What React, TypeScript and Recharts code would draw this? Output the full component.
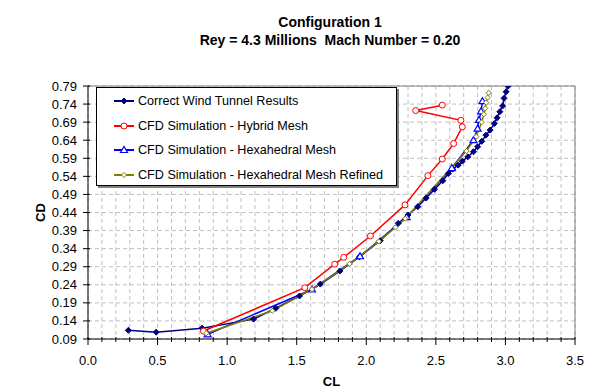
import { LineChart, Line, XAxis, YAxis, CartesianGrid, Legend, ReferenceLine } from 'recharts'

// Correct wind tunnel results
const windCL = [0.29, 0.49, 0.82, 1.19, 1.35, 1.52, 1.67, 1.81, 1.95, 2.1, 2.23, 2.3, 2.37, 2.43, 2.49, 2.55, 2.59, 2.62, 2.66, 2.69, 2.73, 2.77, 2.8, 2.83, 2.86, 2.89, 2.92, 2.94, 2.96, 2.98, 2.99, 3.005, 3.02]
const windCD = [0.114, 0.109, 0.12, 0.145, 0.175, 0.209, 0.242, 0.278, 0.317, 0.362, 0.41, 0.433, 0.456, 0.48, 0.504, 0.528, 0.548, 0.56, 0.571, 0.582, 0.594, 0.608, 0.622, 0.637, 0.654, 0.668, 0.686, 0.702, 0.719, 0.735, 0.756, 0.774, 0.79]

// CFD hybrid mesh
const hybridCL = [0.83, 1.558, 1.773, 1.838, 2.03, 2.278, 2.443, 2.546, 2.628, 2.69, 2.68, 2.355, 2.546]
const hybridCD = [0.112, 0.232, 0.297, 0.316, 0.375, 0.461, 0.542, 0.588, 0.631, 0.677, 0.695, 0.722, 0.737]

// CFD hexahedral mesh
const hexaCL = [0.86, 1.61, 1.955, 2.29, 2.615, 2.77, 2.8, 2.81, 2.825, 2.835]
const hexaCD = [0.103, 0.227, 0.319, 0.427, 0.563, 0.64, 0.672, 0.696, 0.72, 0.748]

// CFD hexahedral mesh refined
const refinedCL = [0.85, 1.325, 1.61, 1.88, 2.09, 2.21, 2.28, 2.72, 2.79, 2.83, 2.845, 2.855, 2.862, 2.872, 2.88]
const refinedCD = [0.106, 0.168, 0.228, 0.298, 0.36, 0.399, 0.423, 0.61, 0.65, 0.69, 0.712, 0.728, 0.744, 0.758, 0.771]

const xTicks = [0, 0.1, 0.2, 0.3, 0.4, 0.5, 0.6, 0.7, 0.8, 0.9, 1.0, 1.1, 1.2, 1.3, 1.4, 1.5, 1.6, 1.7, 1.8, 1.9, 2.0, 2.1, 2.2, 2.3, 2.4, 2.5, 2.6, 2.7, 2.8, 2.9, 3.0, 3.1, 3.2, 3.3, 3.4, 3.5]
const yTicks = [0.09, 0.14, 0.19, 0.24, 0.29, 0.34, 0.39, 0.44, 0.49, 0.54, 0.59, 0.64, 0.69, 0.74, 0.79]

const zip = (xs: number[], ys: number[]) => xs.map((x, i) => ({ x, y: ys[i] }))

const FONT = '"Liberation Sans", Arial, sans-serif'

type Shape = 'diamondFilled' | 'circle' | 'triangle' | 'diamond'

const series: { name: string; color: string; shape: Shape; data: { x: number; y: number }[] }[] = [
  { name: 'Correct Wind Tunnel Results', color: '#000080', shape: 'diamondFilled', data: zip(windCL, windCD) },
  { name: 'CFD Simulation - Hybrid Mesh', color: '#ff0000', shape: 'circle', data: zip(hybridCL, hybridCD) },
  { name: 'CFD Simulation - Hexahedral Mesh', color: '#0000ff', shape: 'triangle', data: zip(hexaCL, hexaCD) },
  { name: 'CFD Simulation - Hexahedral Mesh Refined', color: '#808000', shape: 'diamond', data: zip(refinedCL, refinedCD) },
]

function Marker({ cx, cy, color, shape }: { cx: number; cy: number; color: string; shape: Shape }) {
  if (cx == null || cy == null) return null
  if (shape === 'circle') {
    return <circle cx={cx} cy={cy} r={3} fill="#fff" stroke={color} strokeWidth={1} />
  }
  if (shape === 'triangle') {
    return <path d={`M${cx},${cy - 3.5}L${cx + 3.5},${cy + 2.5}L${cx - 3.5},${cy + 2.5}Z`} fill="#fff" stroke={color} strokeWidth={1.2} />
  }
  const r = shape === 'diamondFilled' ? 3 : 2.6
  return (
    <path
      d={`M${cx},${cy - r}L${cx + r},${cy}L${cx},${cy + r}L${cx - r},${cy}Z`}
      fill={shape === 'diamondFilled' ? color : '#fff'}
      stroke={color}
      strokeWidth={1}
    />
  )
}

function XTick({ x, y, payload }: any) {
  const v = payload.value as number
  const major = Math.abs(v * 2 - Math.round(v * 2)) < 1e-6
  return (
    <g>
      <line x1={x} x2={x} y1={y - 2} y2={y + (major ? 6 : 3)} stroke="#000" />
      {major && (
        <text x={x} y={y + 26} textAnchor="middle" fontSize={13} fontFamily={FONT} fill="#000">
          {v.toFixed(1)}
        </text>
      )}
    </g>
  )
}

function YTick({ x, y, payload }: any) {
  return (
    <g>
      <line x1={x - 5} x2={x + 2} y1={y} y2={y} stroke="#000" />
      <text x={x - 11} y={y} dy="0.35em" textAnchor="end" fontSize={13} fontFamily={FONT} fill="#000">
        {(payload.value as number).toFixed(2)}
      </text>
    </g>
  )
}

function LegendBox() {
  return (
    <div
      style={{
        width: 301, height: 99, boxSizing: 'border-box', border: '1px solid #000',
        boxShadow: '2px 2px 0 #808080', background: '#fff', position: 'relative', fontFamily: FONT,
      }}
    >
      {series.map((s, i) => (
        <div
          key={s.name}
          style={{ position: 'absolute', left: 16, top: 13 + i * 24.7 - 8, height: 16, display: 'flex', alignItems: 'center', whiteSpace: 'nowrap' }}
        >
          <svg width={22} height={16}>
            <line x1={1} x2={21} y1={8} y2={8} stroke={s.color} strokeWidth={2} />
            <Marker cx={11} cy={8} color={s.color} shape={s.shape} />
          </svg>
          <span style={{ marginLeft: 3, fontSize: 12.6, color: '#000' }}>{s.name}</span>
        </div>
      ))}
    </div>
  )
}

export default function App() {
  return (
    <div style={{ position: 'absolute', left: 0, top: 0, width: 593, height: 392, background: '#fff', fontFamily: FONT }}>
      <div
        style={{
          position: 'absolute', left: 0, width: 660, top: 13, textAlign: 'center',
          fontSize: 14, fontWeight: 'bold', lineHeight: '18px', color: '#000',
        }}
      >
        Configuration 1
        <br />
        Rey = 4.3 Millions&nbsp; Mach Number = 0.20
      </div>
      <LineChart width={593} height={392} margin={{ top: 86, right: 18, bottom: 0, left: 0 }}>
        <CartesianGrid stroke="#c0c0c0" strokeDasharray="4 3" />
        <XAxis
          type="number"
          dataKey="x"
          domain={[0, 3.5]}
          ticks={xTicks}
          interval={0}
          height={53}
          tickSize={0}
          tickMargin={0}
          tickLine={false}
          tick={<XTick />}
          stroke="#000"
          allowDataOverflow
          label={{ value: 'CL', position: 'insideBottom', offset: 6, fontSize: 13, fontWeight: 'bold', fill: '#000', fontFamily: FONT }}
        />
        <YAxis
          type="number"
          dataKey="y"
          domain={[0.09, 0.79]}
          ticks={yTicks}
          interval={0}
          width={88}
          tickSize={0}
          tickMargin={0}
          tickLine={false}
          tick={<YTick />}
          stroke="#000"
          allowDataOverflow
          label={{ value: 'CD', angle: -90, position: 'center', dx: -4, fontSize: 13, fontWeight: 'bold', fill: '#000', fontFamily: FONT }}
        />
        <ReferenceLine y={0.79} stroke="#808080" />
        <ReferenceLine x={3.5} stroke="#808080" />
        {series.map((s) => (
          <Line
            key={s.name}
            name={s.name}
            data={s.data}
            dataKey="y"
            type="linear"
            stroke={s.color}
            strokeWidth={1.5}
            isAnimationActive={false}
            dot={(p: any) => <Marker key={p.index} cx={p.cx} cy={p.cy} color={s.color} shape={s.shape} />}
            activeDot={false}
          />
        ))}
        <Legend
          layout="vertical"
          align="center"
          verticalAlign="middle"
          content={() => <LegendBox />}
          wrapperStyle={{ left: 96, top: 87, width: 301, height: 99 }}
        />
      </LineChart>
    </div>
  )
}
